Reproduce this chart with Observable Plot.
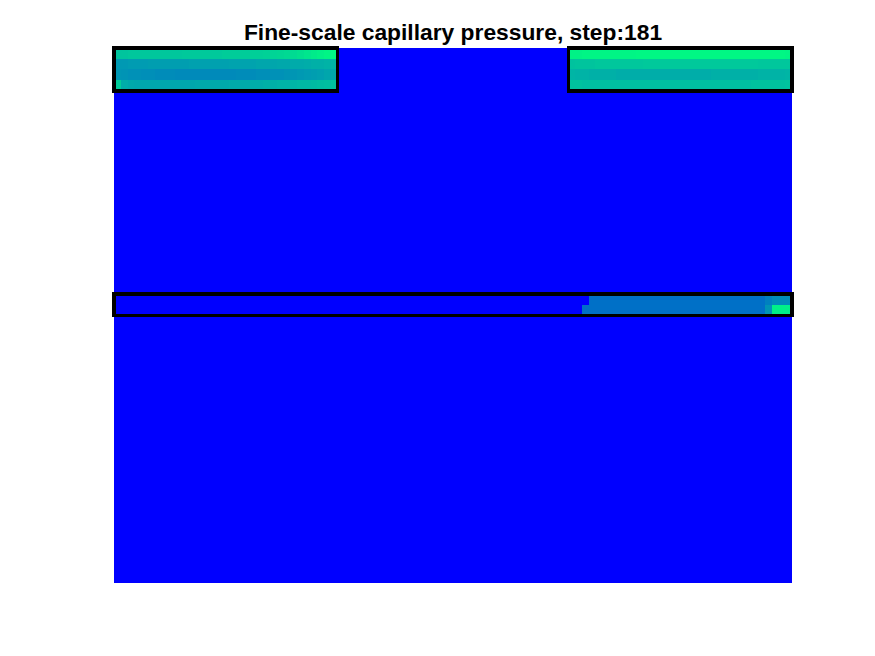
<!DOCTYPE html>
<html>
<head>
<meta charset="utf-8">
<script src="https://cdn.jsdelivr.net/npm/d3@7"></script>
<script src="https://cdn.jsdelivr.net/npm/@observablehq/plot@0.6"></script>
<style>
  body { margin: 0; background: #fff; }
  #wrap { position: relative; width: 875px; height: 656px; }
  #title { position: absolute; left: 114px; width: 678px; top: 19px; text-align: center;
           font: bold 22.8px "Liberation Sans", Arial, sans-serif; color: #000; line-height: 26px; }
  svg { shape-rendering: crispEdges; }
</style>
</head>
<body>
<div id="wrap"><div id="chart"></div><div id="title">Fine-scale capillary pressure, step:181</div></div>
<script>
const titleText = "Fine-scale capillary pressure, step:181";
const nCols = 100;
const nRows = 50;

// normalized capillary pressure (0 = background)
const leftBoxRow1 = [0.77,0.77,0.78,0.78,0.78,0.78,0.78,0.78,0.78,0.78,0.79,0.79,0.79,0.79,0.79,0.79,0.80,0.80,0.80,0.80,0.81,0.81,0.82,0.83,0.84,0.85,0.86,0.88,0.90,0.92,0.94,0.96,0.97];
const leftBoxRow2 = [0.60,0.60,0.61,0.61,0.61,0.62,0.62,0.62,0.62,0.62,0.62,0.63,0.63,0.63,0.63,0.63,0.63,0.64,0.64,0.64,0.64,0.65,0.65,0.65,0.66,0.66,0.67,0.67,0.68,0.69,0.69,0.70,0.71];
const leftBoxRow3 = [0.59,0.58,0.57,0.57,0.56,0.56,0.55,0.55,0.55,0.54,0.54,0.54,0.54,0.54,0.54,0.54,0.54,0.54,0.55,0.55,0.55,0.56,0.56,0.57,0.57,0.58,0.59,0.60,0.61,0.62,0.63,0.65,0.66];
const leftBoxRow4 = [0.80,0.68,0.66,0.65,0.65,0.65,0.65,0.65,0.65,0.65,0.65,0.65,0.66,0.66,0.66,0.66,0.66,0.67,0.67,0.67,0.68,0.68,0.69,0.69,0.70,0.70,0.71,0.72,0.72,0.73,0.74,0.75,0.76];

const rightBoxRow1 = [0.95,0.95,0.96,0.96,0.96,0.96,0.96,0.96,0.96,0.96,0.97,0.97,0.97,0.97,0.97,0.97,0.97,0.97,0.97,0.97,0.97,0.97,0.97,0.97,0.97,0.97,0.97,0.97,0.97,0.97,0.97,0.97,0.96];
const rightBoxRow2 = [0.76,0.77,0.77,0.77,0.78,0.78,0.78,0.78,0.78,0.78,0.78,0.79,0.79,0.79,0.79,0.79,0.79,0.79,0.79,0.79,0.79,0.79,0.79,0.79,0.79,0.79,0.79,0.79,0.78,0.78,0.78,0.78,0.78];
const rightBoxRow3 = [0.71,0.70,0.70,0.69,0.69,0.69,0.69,0.68,0.68,0.68,0.68,0.68,0.68,0.68,0.68,0.68,0.68,0.68,0.68,0.68,0.68,0.69,0.69,0.69,0.69,0.69,0.69,0.69,0.70,0.70,0.70,0.70,0.71];
const rightBoxRow4 = [0.76,0.76,0.75,0.75,0.75,0.75,0.75,0.75,0.75,0.75,0.75,0.75,0.75,0.75,0.75,0.75,0.75,0.75,0.75,0.75,0.75,0.75,0.75,0.75,0.75,0.75,0.75,0.76,0.76,0.76,0.76,0.76,0.77];

// middle strip: [startCol, endCol, value]
const stripTopRuns = [[0,70,0],[70,96,0.44],[96,97,0.50],[97,100,0.55]];
const stripBottomRuns = [[0,69,0],[69,96,0.44],[96,97,0.58],[97,100,0.94]];

// layer outlines: [col0, col1, row0, row1]
const outlines = [[0,33,0,4],[67,100,0,4],[0,100,23,25]];

// build grid
const grid = Array.from({length: nRows}, () => new Array(nCols).fill(0));
[leftBoxRow1,leftBoxRow2,leftBoxRow3,leftBoxRow4].forEach((row,r) => row.forEach((v,c) => grid[r][c] = v));
[rightBoxRow1,rightBoxRow2,rightBoxRow3,rightBoxRow4].forEach((row,r) => row.forEach((v,c) => grid[r][67 + c] = v));
for (const [a,b,v] of stripTopRuns) for (let c = a; c < b; c++) grid[23][c] = v;
for (const [a,b,v] of stripBottomRuns) for (let c = a; c < b; c++) grid[24][c] = v;

const cells = [];
for (let r = 0; r < nRows; r++) for (let c = 0; c < nCols; c++) cells.push({c, r, v: grid[r][c]});
const boxes = outlines.map(([c0,c1,r0,r1]) => ({c0,c1,r0,r1}));

const chart = Plot.plot({
  width: 875,
  height: 656,
  marginTop: 48,
  marginBottom: 73,
  marginLeft: 114,
  marginRight: 83,
  x: {domain: [0, nCols], axis: null},
  y: {domain: [0, nRows], reverse: true, axis: null},
  color: {type: "linear", domain: [0, 1], range: ["#0000ff", "#00ff80"], interpolate: "rgb"},
  marks: [
    Plot.rect(cells, {x1: "c", x2: d => d.c + 1, y1: "r", y2: d => d.r + 1, fill: "v", inset: 0}),
    Plot.rect(boxes, {x1: "c0", x2: "c1", y1: "r0", y2: "r1", fill: "none", stroke: "#000", strokeWidth: 3.5, inset: 0})
  ]
});
chart.style.shapeRendering = "crispEdges";
document.getElementById("chart").appendChild(chart);
document.getElementById("title").textContent = titleText;
</script>
</body>
</html>
